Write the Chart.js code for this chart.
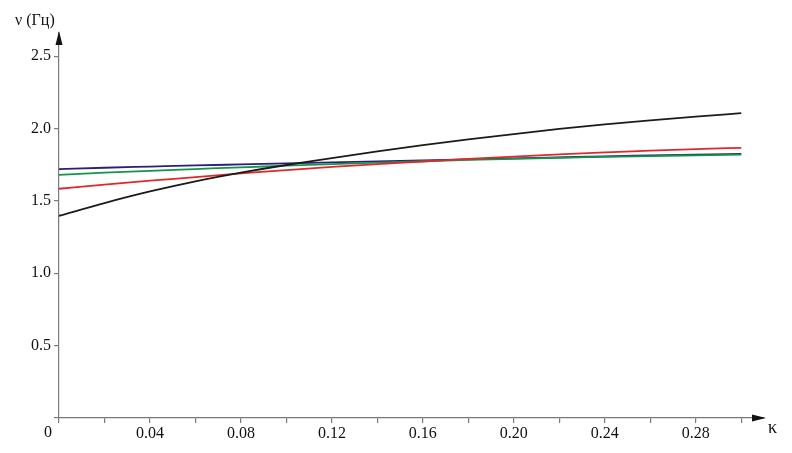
<!DOCTYPE html>
<html>
<head>
<meta charset="utf-8">
<script src="https://cdn.jsdelivr.net/npm/chart.js@4"></script>
<style>
  html, body { margin: 0; padding: 0; background: #fff; }
  #wrap { width: 792px; height: 453px; }
</style>
</head>
<body>
<div id="wrap"><canvas id="c" width="792" height="453"></canvas></div>
<script>
// kappa values (x)
const kappa = [0, 0.02, 0.04, 0.06, 0.08, 0.10, 0.12, 0.14, 0.16, 0.18, 0.20, 0.22, 0.24, 0.26, 0.28, 0.30];
// frequency series, Hz
const blackSeries = [1.397, 1.485, 1.565, 1.635, 1.695, 1.748, 1.795, 1.842, 1.885, 1.925, 1.962, 1.997, 2.028, 2.056, 2.082, 2.106];
const redSeries   = [1.584, 1.613, 1.640, 1.664, 1.690, 1.713, 1.735, 1.754, 1.772, 1.790, 1.806, 1.821, 1.835, 1.848, 1.858, 1.867];
const greenSeries = [1.680, 1.695, 1.708, 1.720, 1.732, 1.743, 1.754, 1.765, 1.774, 1.783, 1.791, 1.798, 1.804, 1.810, 1.815, 1.820];
const blueSeries  = [1.720, 1.729, 1.737, 1.745, 1.752, 1.759, 1.766, 1.773, 1.780, 1.787, 1.794, 1.801, 1.808, 1.814, 1.820, 1.825];

const xLabelTicks = ['0.04', '0.08', '0.12', '0.16', '0.20', '0.24', '0.28'];
const yLabelTicks = ['0.5', '1.0', '1.5', '2.0', '2.5'];

const FONT = '"Liberation Serif", "DejaVu Serif", serif';
const AXIS = '#7a7a7a';

function toPoints(ys) {
  return kappa.map((k, i) => ({ x: k, y: ys[i] }));
}

function series(data, color) {
  return {
    data: toPoints(data),
    borderColor: color,
    borderWidth: 1.8,
    pointRadius: 0,
    fill: false,
    cubicInterpolationMode: 'monotone'
  };
}

// arrows, axis titles and the origin "0"
const axisDecor = {
  id: 'axisDecor',
  afterDraw(chart) {
    const ctx = chart.ctx;
    const a = chart.chartArea;
    const x0 = chart.scales.x.getPixelForValue(0);
    const y0 = chart.scales.y.getPixelForValue(0);
    ctx.save();
    ctx.fillStyle = '#111';
    // y arrow
    ctx.beginPath();
    ctx.moveTo(x0, a.top - 2);
    ctx.lineTo(x0 - 3.5, a.top + 12);
    ctx.lineTo(x0 + 3.5, a.top + 12);
    ctx.closePath();
    ctx.fill();
    // x arrow
    ctx.beginPath();
    ctx.moveTo(a.right + 2, y0);
    ctx.lineTo(a.right - 12, y0 - 3.5);
    ctx.lineTo(a.right - 12, y0 + 3.5);
    ctx.closePath();
    ctx.fill();

    ctx.font = '16px ' + FONT;
    ctx.fillStyle = '#111';
    ctx.textBaseline = 'middle';
    ctx.textAlign = 'center';
    ctx.fillText('0', x0 - 11, y0 + 15);
    ctx.textAlign = 'left';
    ctx.fillText('ν (Гц)', 15, 21);
    ctx.font = '18px ' + FONT;
    ctx.fillText('κ', a.right + 4, y0 + 10);
    ctx.restore();
  }
};

new Chart(document.getElementById('c'), {
  type: 'line',
  data: {
    datasets: [
      series(blackSeries, '#1b1b1b'),
      series(redSeries, '#e0282c'),
      series(greenSeries, '#12954a'),
      series(blueSeries, '#2b1f78')
    ]
  },
  options: {
    responsive: false,
    animation: false,
    layout: { padding: { top: 33, right: 28, left: 0, bottom: 0 } },
    plugins: { legend: { display: false }, tooltip: { enabled: false } },
    scales: {
      x: {
        type: 'linear',
        min: 0,
        max: 0.31,
        afterFit(scale) { scale.height = 35; },
        afterBuildTicks(scale) {
          const t = [];
          for (let i = 0; i <= 15; i++) t.push({ value: i * 0.02 });
          scale.ticks = t;
        },
        border: { color: AXIS, width: 1.2 },
        grid: { drawOnChartArea: false, color: AXIS, tickLength: 5, lineWidth: 1.2 },
        ticks: {
          autoSkip: false,
          maxRotation: 0,
          padding: 1,
          color: '#111',
          font: { family: FONT, size: 16 },
          callback(v) {
            const s = v.toFixed(2);
            return xLabelTicks.includes(s) ? s : '';
          }
        }
      },
      y: {
        min: 0,
        max: 2.66,
        afterFit(scale) { scale.width = 59; },
        afterBuildTicks(scale) {
          scale.ticks = [0, 0.5, 1.0, 1.5, 2.0, 2.5].map(v => ({ value: v }));
        },
        border: { color: AXIS, width: 1.2 },
        grid: { drawOnChartArea: false, color: AXIS, tickLength: 5, lineWidth: 1.2 },
        ticks: {
          padding: 3,
          color: '#111',
          font: { family: FONT, size: 16 },
          callback(v) {
            const s = v.toFixed(1);
            return yLabelTicks.includes(s) ? s : '';
          }
        }
      }
    }
  },
  plugins: [axisDecor]
});
</script>
</body>
</html>
